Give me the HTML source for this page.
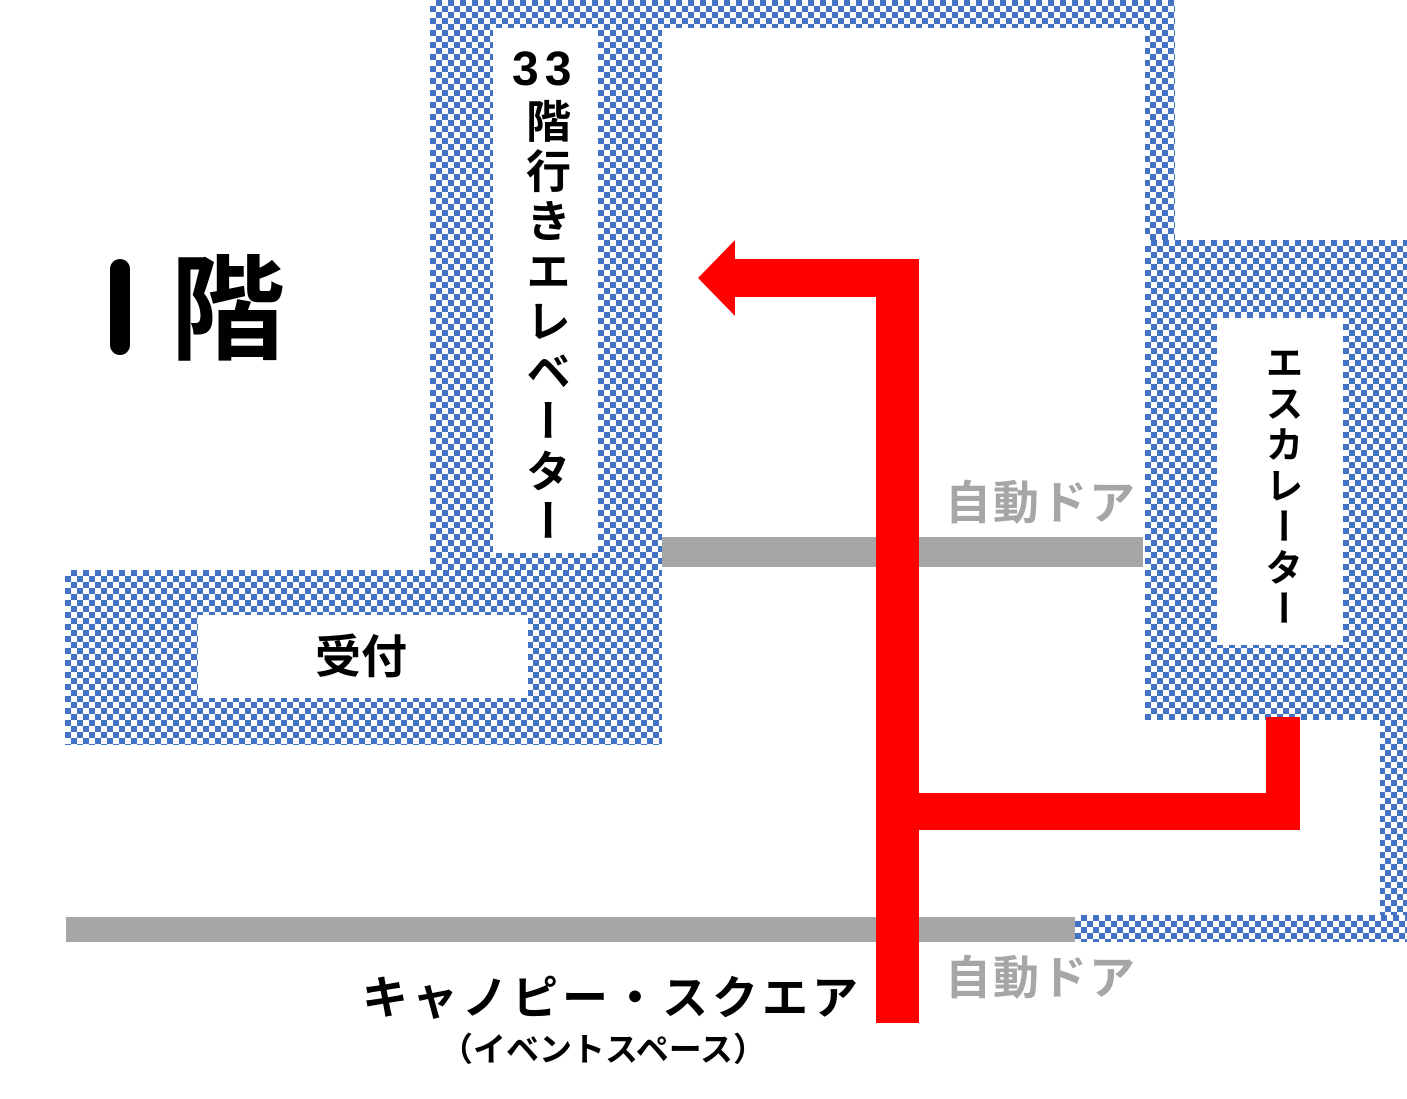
<!DOCTYPE html>
<html><head><meta charset="utf-8"><style>
body{margin:0;width:1407px;height:1099px;background:#fff;position:relative;overflow:hidden;font-family:"Liberation Sans","Noto Sans CJK JP",sans-serif;font-weight:bold}
.a{position:absolute}
.ck{position:absolute;background-color:#fff;background-image:conic-gradient(#4472c4 25%,transparent 0 50%,#4472c4 0 75%,transparent 0);background-size:12px 12px}
.w{position:absolute;background:#fff}
.g{position:absolute;background:#a6a6a6}
.r{position:absolute;background:#f00}
.t{position:absolute;white-space:nowrap;line-height:1}
.v{position:absolute;writing-mode:vertical-rl;line-height:1;white-space:nowrap}
</style></head><body>
<div class="ck" style="left:430px;top:0;width:745px;height:570px"></div>
<div class="ck" style="left:1145px;top:240px;width:262px;height:702px"></div>
<div class="ck" style="left:65px;top:570px;width:597px;height:175px"></div>
<div class="ck" style="left:1075px;top:915px;width:332px;height:27px"></div>
<div class="w" style="left:662px;top:28px;width:483px;height:717px"></div>
<div class="w" style="left:1175px;top:0;width:232px;height:240px"></div>
<div class="w" style="left:1145px;top:720px;width:235px;height:195px"></div>
<div class="w" style="left:493px;top:28px;width:105px;height:525px"></div>
<div class="w" style="left:1217px;top:318px;width:126px;height:327px"></div>
<div class="w" style="left:198px;top:615px;width:330px;height:83px"></div>
<div class="g" style="left:662px;top:537px;width:481px;height:30px"></div>
<div class="g" style="left:66px;top:917px;width:1009px;height:25px"></div>
<div class="r" style="left:876px;top:259px;width:43px;height:764px"></div>
<div class="r" style="left:735px;top:259px;width:184px;height:38px"></div>
<svg class="a" style="left:698px;top:240px" width="40" height="77"><polygon points="0,38 37,0 37,76" fill="#f00"/></svg>
<div class="r" style="left:919px;top:793px;width:381px;height:37px"></div>
<div class="r" style="left:1266px;top:717px;width:34px;height:113px"></div>
<div class="a" style="left:110px;top:259px;width:20px;height:96px;background:#000;border-radius:10px;color:transparent;font-size:20px;overflow:hidden">1</div>
<div class="t" style="left:170px;top:254px;font-size:115px">階</div>
<div class="t" style="left:512px;top:46px;font-size:48px;letter-spacing:6px">33</div>
<div class="v" style="left:522px;top:98px;font-size:45px;letter-spacing:5px">階行きエレベーター</div>
<div class="v" style="left:1261px;top:343px;font-size:38px;letter-spacing:3px">エスカレーター</div>
<div class="t" style="left:315px;top:634px;font-size:46px">受付</div>
<div class="t" style="left:945px;top:480px;font-size:46px;color:#a6a6a6;letter-spacing:2px">自動ドア</div>
<div class="t" style="left:945px;top:955px;font-size:46px;color:#a6a6a6;letter-spacing:2px">自動ドア</div>
<div class="t" style="left:362px;top:975px;font-size:46px;letter-spacing:4px">キャノピー・スクエア</div>
<div class="t" style="left:440px;top:1033px;font-size:33px">（イベントスペース）</div>
</body></html>
